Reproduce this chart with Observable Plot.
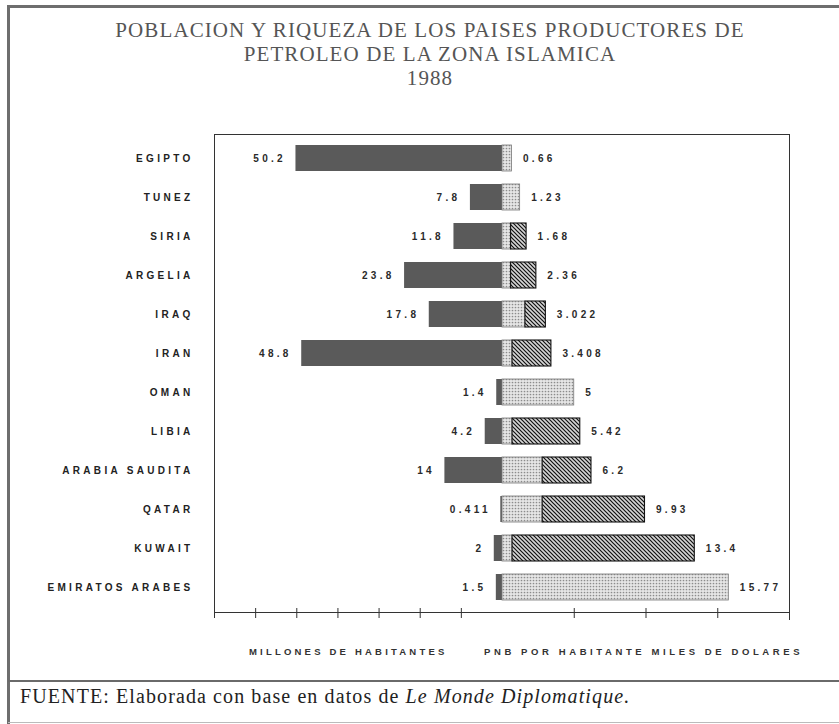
<!DOCTYPE html>
<html>
<head>
<meta charset="utf-8">
<script src="https://cdn.jsdelivr.net/npm/d3@7"></script>
<script src="https://cdn.jsdelivr.net/npm/@observablehq/plot@0.6"></script>
<style>
  html, body { margin: 0; padding: 0; background: #fff; }
  #page { position: relative; width: 839px; height: 724px; overflow: hidden; background: #fff; }
  .bord-top { position: absolute; left: 8px; top: 5px; width: 831px; height: 3px; background: #6e6e6e; }
  .bord-left { position: absolute; left: 7px; top: 5px; width: 3px; height: 719px; background: #6e6e6e; }
  .bord-sep { position: absolute; left: 8px; top: 680px; width: 831px; height: 2px; background: #6a6a6a; }
  .bord-bot { position: absolute; left: 8px; top: 722px; width: 831px; height: 1px; background: #bbb; }
  #title { position: absolute; left: 0; top: 18px; width: 860px; text-align: center;
    font-family: "Liberation Serif", "DejaVu Serif", serif; font-size: 21px; line-height: 24px;
    letter-spacing: 1.1px; color: #555; }
  #left { position: absolute; left: 0; top: 120px; }
  #right { position: absolute; left: 502px; top: 120px; }
  .axt { position: absolute; top: 646px; white-space: pre;
    font-family: "Liberation Sans", Arial, sans-serif; font-weight: bold; font-size: 9.5px; color: #333; }
  #axt1 { left: 249px; letter-spacing: 3.2px; }
  #axt2 { left: 484px; letter-spacing: 3.6px; }
  #caption { position: absolute; left: 20px; top: 685px; white-space: pre;
    font-family: "Liberation Serif", "DejaVu Serif", serif; font-size: 20px; letter-spacing: 1.1px; color: #222; }
</style>
</head>
<body>
<div id="page">
  <svg width="0" height="0" style="position:absolute">
    <defs>
      <pattern id="stipple" width="3" height="3" patternUnits="userSpaceOnUse">
        <rect width="3" height="3" fill="#e6e6e6"></rect>
        <circle cx="1.5" cy="1.5" r="0.85" fill="#8c8c8c"></circle>
      </pattern>
      <pattern id="hatch" width="4" height="4" patternUnits="userSpaceOnUse">
        <rect width="4" height="4" fill="#d6d6d6"></rect>
        <path d="M-1,-1 L5,5 M-1,3 L1,5 M3,-1 L5,1" stroke="#111" stroke-width="1.2"></path>
      </pattern>
    </defs>
  </svg>
  <div class="bord-top"></div>
  <div class="bord-left"></div>
  <div class="bord-sep"></div>
  <div class="bord-bot"></div>
  <div id="title">POBLACION Y RIQUEZA DE LOS PAISES PRODUCTORES DE<br>PETROLEO DE LA ZONA ISLAMICA<br>1988</div>
  <div id="left"></div>
  <div id="right"></div>
  <div class="axt" id="axt1">MILLONES DE HABITANTES</div>
  <div class="axt" id="axt2">PNB POR HABITANTE MILES DE DOLARES</div>
  <div id="caption">FUENTE: Elaborada con base en datos de <i>Le Monde Diplomatique.</i></div>
</div>
<script>
// ---- data ----
const countries = ["EGIPTO", "TUNEZ", "SIRIA", "ARGELIA", "IRAQ", "IRAN", "OMAN", "LIBIA", "ARABIA SAUDITA", "QATAR", "KUWAIT", "EMIRATOS ARABES"];
const population = [50.2, 7.8, 11.8, 23.8, 17.8, 48.8, 1.4, 4.2, 14, 0.411, 2, 1.5];          // millones de habitantes
const pnb = [0.66, 1.23, 1.68, 2.36, 3.022, 3.408, 5, 5.42, 6.2, 9.93, 13.4, 15.77];          // PNB por habitante, miles de dólares
const pnbStippleEnd = [0.66, 1.23, 0.6, 0.6, 1.6, 0.7, 5, 0.7, 2.8, 2.8, 0.7, 15.77];         // extent of the dotted part of each bar
const popDomain = [0, 70];
const pnbDomain = [0, 20];
const popTicks = [10, 20, 30, 40, 50, 60];
const pnbTicks = [5, 10, 15];

const rows = countries.map((c, i) => ({
  country: c, pop: population[i], pnb: pnb[i], stip: pnbStippleEnd[i]
}));
const hatched = rows.filter(d => d.stip < d.pnb);

const textStyle = {
  fontFamily: "'Liberation Sans', Arial, sans-serif",
  fontSize: "10px",
  fontWeight: "bold",
  letterSpacing: "3.3px",
  color: "#222",
  background: "transparent",
  overflow: "visible"
};

const left = Plot.plot({
  width: 502, height: 510,
  marginLeft: 214, marginRight: 0, marginTop: 14, marginBottom: 18,
  x: {domain: popDomain, reverse: true},
  y: {domain: countries, paddingInner: 0.33, paddingOuter: 0.15},
  style: textStyle,
  marks: [
    Plot.barX(rows, {x: "pop", y: "country", fill: "#5a5a5a"}),
    Plot.text(rows, {x: "pop", y: "country", text: d => String(d.pop), textAnchor: "end", dx: -10, fill: "#2a2a2a"}),
    Plot.axisY({tickSize: 0, tickPadding: 21, label: null, fill: "#222"}),
    Plot.axisX({ticks: popTicks, tickSize: 10, dy: -4, tickFormat: () => "", label: null, stroke: "#333"}),
    Plot.ruleX([popDomain[1]], {stroke: "#333", insetBottom: -6}),
    Plot.frame({anchor: "top", stroke: "#333"}),
    Plot.frame({anchor: "bottom", stroke: "#333"})
  ]
});

const right = Plot.plot({
  width: 337, height: 510,
  marginLeft: 0, marginRight: 50, marginTop: 14, marginBottom: 18,
  x: {domain: pnbDomain},
  y: {domain: countries, paddingInner: 0.33, paddingOuter: 0.15, axis: null},
  style: textStyle,
  marks: [
    Plot.barX(rows, {x1: 0, x2: "stip", y: "country", fill: "url(#stipple)", stroke: "#777", strokeWidth: 0.8}),
    Plot.barX(hatched, {x1: "stip", x2: "pnb", y: "country", fill: "url(#hatch)", stroke: "#111", strokeWidth: 1.1}),
    Plot.text(rows, {x: "pnb", y: "country", text: d => String(d.pnb), textAnchor: "start", dx: 11, fill: "#2a2a2a"}),
    Plot.axisX({ticks: pnbTicks, tickSize: 10, dy: -4, tickFormat: () => "", label: null, stroke: "#333"}),
    Plot.ruleX([pnbDomain[1]], {stroke: "#333", insetBottom: -8}),
    Plot.frame({anchor: "top", stroke: "#333"}),
    Plot.frame({anchor: "bottom", stroke: "#333"})
  ]
});

document.getElementById("left").append(left);
document.getElementById("right").append(right);
</script>
</body>
</html>
